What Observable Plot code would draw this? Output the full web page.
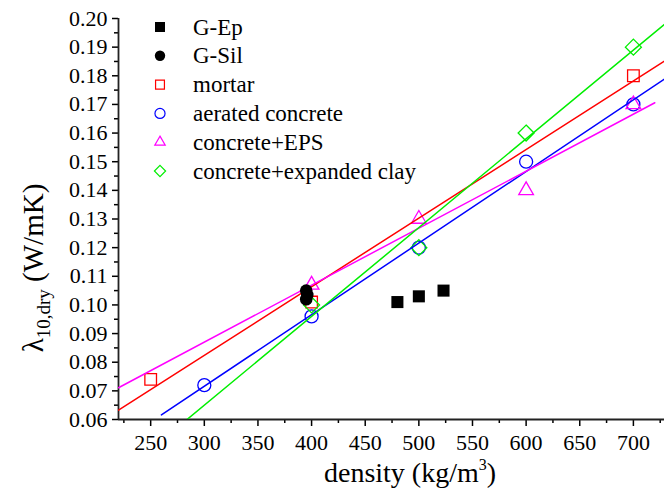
<!DOCTYPE html>
<html><head><meta charset="utf-8">
<script src="https://cdn.jsdelivr.net/npm/d3@7"></script>
<script src="https://cdn.jsdelivr.net/npm/@observablehq/plot@0.6"></script>
<style>body{margin:0;background:#fff} #wrap{position:relative;width:664px;height:494px}
svg text, svg tspan { font-family: "Liberation Serif", "Times New Roman", Times, "DejaVu Serif", serif !important; }</style>
</head><body><div id="wrap"></div>
<script>
// ---- data ----
const seriesNames = ["G-Ep", "G-Sil", "mortar", "aerated concrete", "concrete+EPS", "concrete+expanded clay"];
const gEpDensity = [480, 500, 523];
const gEpLambda = [0.101, 0.103, 0.105];
const gSilDensity = [395, 396, 395];
const gSilLambda = [0.105, 0.1035, 0.102];
const mortarDensity = [250, 400, 700];
const mortarLambda = [0.074, 0.101, 0.180];
const aeratedDensity = [300, 400, 500, 600, 700];
const aeratedLambda = [0.072, 0.096, 0.120, 0.150, 0.170];
const epsDensity = [400, 500, 600, 700];
const epsLambda = [0.107, 0.130, 0.140, 0.170];
const clayDensity = [400, 500, 600, 700];
const clayLambda = [0.100, 0.120, 0.160, 0.190];
// density range over which each linear fit line is drawn
const mortarFitRange = [220, 729];
const aeratedFitRange = [260, 729];
const epsFitRange = [220, 720];
const clayFitRange = [220, 729];
const xTicks = [250, 300, 350, 400, 450, 500, 550, 600, 650, 700];
const yTicks = [0.06, 0.07, 0.08, 0.09, 0.10, 0.11, 0.12, 0.13, 0.14, 0.15, 0.16, 0.17, 0.18, 0.19, 0.20];
const xDomain = [220, 729];
const yDomain = [0.06, 0.20];

// ---- styles ----
const FONT = "'Liberation Serif', 'Times New Roman', Times, 'DejaVu Serif', serif";
const colors = ["#000", "#000", "#ff0000", "#0000ff", "#ff00ff", "#00ee00"];
const plotSymbols = ["square", "circle", "square2", "circle", "triangle2", "diamond2"];
const plotR = [6.8, 6.3, 7.4, 6.5, 7.0, 7.2];
const legendSymbols = [d3.symbolSquare, d3.symbolCircle, d3.symbolSquare2, d3.symbolCircle, d3.symbolTriangle2, d3.symbolDiamond2];
const legendSizes = [100, 85, 100, 80, 78, 80];

const series = [
  [gEpDensity, gEpLambda, null],
  [gSilDensity, gSilLambda, null],
  [mortarDensity, mortarLambda, mortarFitRange],
  [aeratedDensity, aeratedLambda, aeratedFitRange],
  [epsDensity, epsLambda, epsFitRange],
  [clayDensity, clayLambda, clayFitRange]
].map(([xs, ys, range], i) => ({
  name: seriesNames[i], color: colors[i], symbol: plotSymbols[i], r: plotR[i],
  points: xs.map((x, j) => ({x, y: ys[j]})), range
}));

function fitLine(points, range) {
  const mx = d3.mean(points, d => d.x), my = d3.mean(points, d => d.y);
  const sxy = d3.sum(points, d => (d.x - mx) * (d.y - my));
  const sxx = d3.sum(points, d => (d.x - mx) ** 2);
  const b = sxy / sxx, a = my - b * mx;
  return range.map(x => ({x, y: a + b * x}));
}

const xMinor = d3.range(xDomain[0] + 5, xDomain[1], 50);
const yMinor = d3.range(0.065, 0.2, 0.01);

const marks = [
  Plot.axisX(xMinor, {tickSize: 4, tickFormat: () => "", label: null, strokeWidth: 1.5}),
  Plot.axisX(xTicks, {tickSize: 7, tickPadding: 8, label: null, strokeWidth: 1.5}),
  Plot.axisY(yMinor, {tickSize: 4, tickFormat: () => "", label: null, strokeWidth: 1.5}),
  Plot.axisY(yTicks, {tickSize: 6, tickPadding: 5, tickFormat: d3.format(".2f"), label: null, strokeWidth: 1.5}),
  Plot.ruleX([xDomain[0]], {stroke: "#222", strokeWidth: 1.8}),
  Plot.ruleY([yDomain[0]], {stroke: "#222", strokeWidth: 1.8})
];
const dotMark = s => {
  const filled = s.color === "#000";
  return Plot.dot(s.points, {
    x: "x", y: "y", symbol: () => s.symbol, r: s.r,
    fill: filled ? s.color : "none", stroke: filled ? "none" : s.color, strokeWidth: 1.3
  });
};
for (const s of series) if (s.range) marks.push(dotMark(s));
for (const s of series) {
  if (s.range) marks.push(Plot.line(fitLine(s.points, s.range), {x: "x", y: "y", stroke: s.color, strokeWidth: 1.5, clip: true}));
}
for (const s of series) if (!s.range) marks.push(dotMark(s));

const chart = Plot.plot({
  width: 664, height: 494,
  marginLeft: 118, marginRight: 0, marginTop: 18, marginBottom: 75,
  x: {domain: xDomain},
  y: {domain: yDomain},
  symbol: {type: "identity"},
  style: {fontFamily: FONT, fontSize: "22px", color: "#000", background: "#fff"},
  marks
});

const svg = d3.select(chart);
// axis titles
const yl = svg.append("text")
  .attr("transform", "translate(43,268) rotate(-90)")
  .attr("text-anchor", "middle")
  .attr("font-size", 29).attr("fill", "#000");
yl.append("tspan").text("λ");
yl.append("tspan").attr("font-size", 19).attr("dy", 7).text("10,dry");
yl.append("tspan").attr("dy", -7).text(" (W/mK)");

const xl = svg.append("text")
  .attr("x", 410).attr("y", 482)
  .attr("text-anchor", "middle")
  .attr("font-size", 28).attr("fill", "#000");
xl.append("tspan").text("density (kg/m");
xl.append("tspan").attr("font-size", 16).attr("dy", -12).text("3");
xl.append("tspan").attr("dy", 12).text(")");

// legend
const lg = svg.append("g").attr("text-anchor", "start");
series.forEach((s, i) => {
  const cy = 27 + i * 28.8;
  const filled = s.color === "#000";
  lg.append("path")
    .attr("transform", `translate(160,${cy})`)
    .attr("d", d3.symbol(legendSymbols[i], legendSizes[i])())
    .attr("fill", filled ? s.color : "none")
    .attr("stroke", filled ? "none" : s.color)
    .attr("stroke-width", 1.2);
  lg.append("text")
    .attr("x", 193).attr("y", cy + 7.5)
    .attr("text-anchor", "start")
    .attr("font-size", 23).attr("fill", "#000")
    .text(s.name);
});

document.getElementById("wrap").appendChild(chart);
</script>
</body></html>
